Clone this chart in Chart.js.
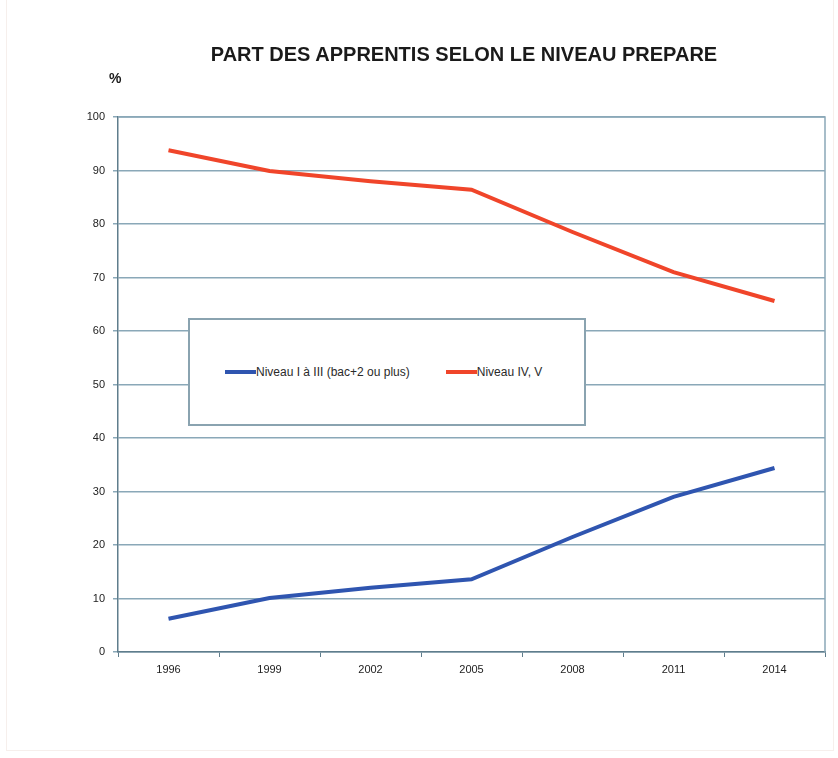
<!DOCTYPE html>
<html>
<head>
<meta charset="utf-8">
<script src="https://cdn.jsdelivr.net/npm/chart.js@4/dist/chart.umd.min.js"></script>
<style>
  body { margin: 0; background: #fff; font-family: "Liberation Sans", Arial, sans-serif; }
  #wrap { position: relative; width: 838px; height: 758px; }
  #frame { position: absolute; left: 6px; top: 0; width: 826px; height: 750px; border: 1px solid #f6efec; border-top: none; }
  #title { position: absolute; left: 0; width: 928px; top: 43px; text-align: center; font-weight: bold; font-size: 20px; color: #1a1a1a; }
  #unit { position: absolute; left: 109px; top: 70px; font-weight: bold; font-size: 14px; color: #1a1a1a; }
  #legend { position: absolute; left: 188px; top: 318px; width: 398px; height: 108px; background: #fff;
            border: 2px solid #8aa3b0; box-sizing: border-box; display: flex; align-items: center; font-size: 12px; color: #2a2a2a; }
  .item { display: flex; align-items: center; }
  .swatch { display: inline-block; width: 31px; height: 4px; }
</style>
</head>
<body>
<div id="wrap">
  <div id="frame"></div>
  <canvas id="chart" width="838" height="758"></canvas>
  <div id="title">PART DES APPRENTIS SELON LE NIVEAU PREPARE</div>
  <div id="unit">%</div>
  <div id="legend"></div>
</div>
<script>
const years = ['1996', '1999', '2002', '2005', '2008', '2011', '2014'];
const niveauSup = [6.2, 10.1, 12, 13.6, 21.5, 29, 34.4];
const niveauIVV = [93.8, 89.9, 88, 86.4, 78.5, 71, 65.6];
const seriesNames = ['Niveau I à III (bac+2 ou plus)', 'Niveau IV, V'];
const seriesColors = ['#2f55b0', '#f0452a'];

const gridColor = '#8aa8b8';

// top and right edge of the plot area
const frame = {
  id: 'frame',
  afterDatasetsDraw(chart) {
    const a = chart.chartArea;
    const ctx = chart.ctx;
    ctx.save();
    ctx.strokeStyle = gridColor;
    ctx.lineWidth = 1.5;
    ctx.beginPath();
    ctx.moveTo(a.left, a.top);
    ctx.lineTo(a.right, a.top);
    ctx.lineTo(a.right, a.bottom);
    ctx.stroke();
    ctx.restore();
  }
};

const ctx = document.getElementById('chart').getContext('2d');
const chart = new Chart(ctx, {
  type: 'line',
  data: {
    labels: years,
    datasets: [{
      label: seriesNames[0],
      data: niveauSup,
      borderColor: seriesColors[0],
      borderWidth: 4,
      pointRadius: 0,
      tension: 0
    }, {
      label: seriesNames[1],
      data: niveauIVV,
      borderColor: seriesColors[1],
      borderWidth: 4,
      pointRadius: 0,
      tension: 0
    }]
  },
  options: {
    responsive: false,
    animation: false,
    layout: { padding: { left: 0, right: 13, top: 117, bottom: 0 } },
    plugins: {
      legend: { display: false },
      tooltip: { enabled: false }
    },
    scales: {
      x: {
        offset: true,
        afterFit: (s) => { s.height = 106; },
        grid: { offset: true, drawOnChartArea: false, drawTicks: true, tickLength: 5, color: '#5f7d8c' },
        border: { color: '#5f7d8c', width: 1.5 },
        ticks: { color: '#222', font: { family: 'Liberation Sans', size: 11 }, padding: 6, maxRotation: 0 }
      },
      y: {
        min: 0,
        max: 100,
        afterFit: (s) => { s.width = 118; },
        grid: { color: gridColor, lineWidth: 1.5, tickLength: 5 },
        border: { color: '#5f7d8c', width: 1.5 },
        ticks: { stepSize: 10, color: '#222', font: { family: 'Liberation Sans', size: 11 }, padding: 8 }
      }
    }
  },
  plugins: [frame]
});

const legend = document.getElementById('legend');
seriesNames.forEach((name, i) => {
  const item = document.createElement('span');
  item.className = 'item';
  item.style.marginLeft = i === 0 ? '35px' : '36px';
  item.innerHTML = `<span class="swatch" style="background:${seriesColors[i]}"></span>${name}`;
  legend.appendChild(item);
});
</script>
</body>
</html>
